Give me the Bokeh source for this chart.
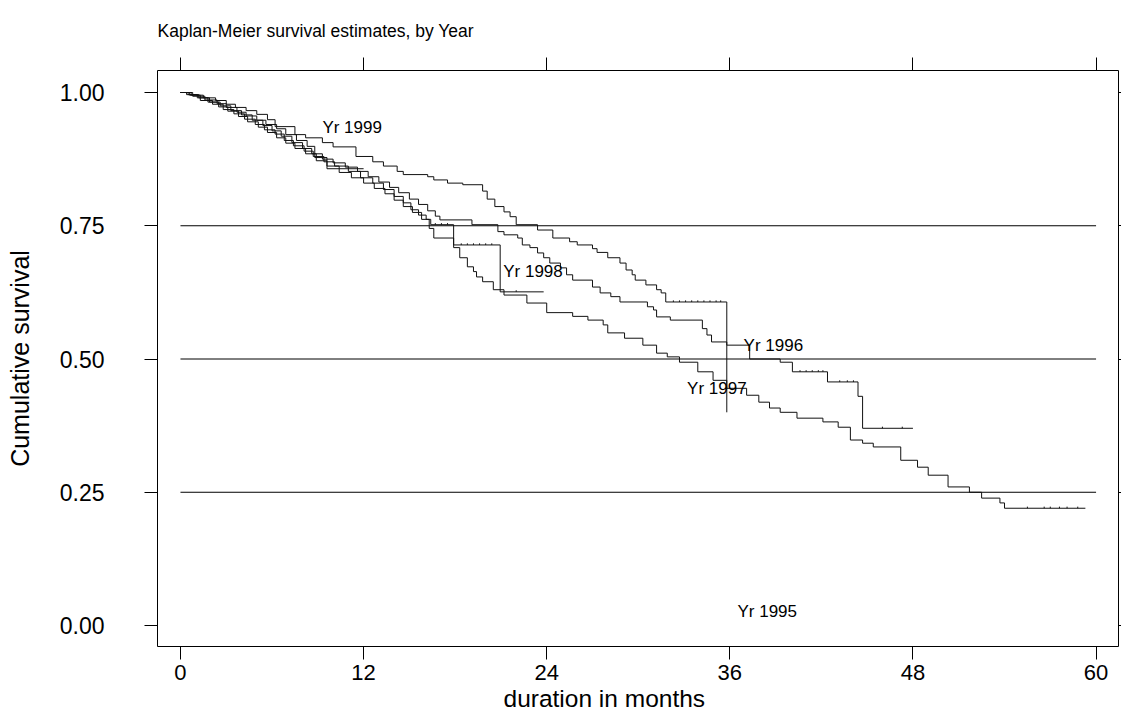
from bokeh.plotting import figure
from bokeh.models import LinearAxis, FixedTicker, Range1d, NumeralTickFormatter, ColumnDataSource, Title
from bokeh.core.properties import value
from bokeh.embed import file_html
from bokeh.resources import INLINE

# ---------------- data ----------------
x_ticks = [0, 12, 24, 36, 48, 60]
y_ticks = [0.0, 0.25, 0.5, 0.75, 1.0]
ref_levels = [0.25, 0.5, 0.75]

# Kaplan-Meier step points: (time in months, survival after event); last point = end of follow-up
t_1995 = [0, 0.5, 1.2, 1.8, 2.5, 3.1, 3.8, 4.4, 5.1, 5.7, 6.3, 6.9, 7.5, 8.2, 8.9, 9.6, 10.4, 11.2, 12.0,
          12.7, 13.4, 14.0, 14.6, 15.2, 15.8, 16.3, 16.6, 17.9, 18.3, 18.8, 19.2, 19.4, 19.8, 20.5, 21.2,
          22.7, 24.0, 25.7, 26.7, 27.7, 28.0, 29.1, 30.3, 31.2, 31.9, 32.7, 33.9, 34.9, 35.8, 37.1, 37.9,
          38.6, 39.3, 40.4, 42.1, 43.1, 43.9, 44.7, 45.4, 47.2, 48.3, 49.0, 50.3, 51.7, 52.5, 53.7, 54.0, 59.3]
s_1995 = [1.0, 0.996, 0.99, 0.982, 0.973, 0.965, 0.955, 0.945, 0.935, 0.925, 0.915, 0.905, 0.895, 0.885,
          0.872, 0.862, 0.85, 0.84, 0.83, 0.82, 0.81, 0.798, 0.786, 0.775, 0.762, 0.745, 0.727, 0.709, 0.69,
          0.673, 0.664, 0.654, 0.645, 0.63, 0.62, 0.605, 0.587, 0.58, 0.573, 0.564, 0.549, 0.539, 0.526,
          0.511, 0.504, 0.494, 0.476, 0.46, 0.445, 0.432, 0.419, 0.408, 0.40, 0.389, 0.382, 0.372, 0.348,
          0.342, 0.335, 0.31, 0.297, 0.282, 0.26, 0.25, 0.239, 0.23, 0.22, 0.22]

t_1996 = [0, 0.4, 1.1, 1.9, 2.6, 3.3, 4.0, 4.7, 5.4, 6.0, 6.6, 7.3, 8.0, 8.6, 9.3, 10.0, 10.8, 11.6, 12.3,
          13.0, 13.7, 14.3, 15.0, 15.6, 16.2, 16.7, 17.0, 19.1, 20.8, 21.2, 22.1, 22.4, 22.9, 23.4, 23.8,
          24.2, 24.9, 25.3, 25.7, 27.0, 27.5, 28.2, 28.8, 30.6, 31.0, 31.2, 32.1, 34.2, 34.5, 34.8, 35.8,
          37.3, 39.3, 40.1, 42.4, 44.4, 44.7, 48.0]
s_1996 = [1.0, 0.996, 0.99, 0.982, 0.975, 0.966, 0.958, 0.948, 0.938, 0.928, 0.918, 0.906, 0.895, 0.885,
          0.875, 0.868, 0.86, 0.852, 0.842, 0.832, 0.822, 0.812, 0.80, 0.79, 0.778, 0.768, 0.761, 0.752,
          0.739, 0.733, 0.727, 0.714, 0.709, 0.699, 0.69, 0.68, 0.671, 0.658, 0.648, 0.635, 0.624, 0.617,
          0.607, 0.598, 0.592, 0.579, 0.573, 0.557, 0.545, 0.532, 0.526, 0.50, 0.494, 0.476, 0.457, 0.43,
          0.37, 0.37]

t_1997 = [0, 0.7, 1.5, 2.3, 3.0, 3.6, 4.3, 5.0, 5.7, 6.2, 7.5, 8.2, 9.3, 10.0, 11.5, 12.6, 13.3, 14.2,
          14.6, 16.2, 16.6, 17.5, 18.5, 19.8, 20.1, 20.6, 21.2, 21.6, 22.0, 23.4, 24.4, 25.5, 26.0, 27.0,
          27.3, 28.0, 28.8, 29.2, 29.6, 29.8, 30.5, 31.2, 31.5, 31.8, 35.8]
s_1997 = [1.0, 0.995, 0.99, 0.985, 0.978, 0.972, 0.966, 0.959, 0.949, 0.936, 0.921, 0.915, 0.906, 0.898,
          0.88, 0.87, 0.862, 0.852, 0.846, 0.842, 0.836, 0.83, 0.827, 0.815, 0.80, 0.786, 0.776, 0.767,
          0.752, 0.742, 0.727, 0.72, 0.714, 0.707, 0.70, 0.69, 0.68, 0.667, 0.658, 0.648, 0.639, 0.63,
          0.624, 0.607, 0.40]

t_1998 = [0, 0.6, 1.3, 2.1, 2.8, 3.5, 4.2, 4.9, 5.5, 6.2, 6.8, 7.4, 8.1, 8.7, 9.4, 10.1, 11.0, 11.8, 12.6,
          13.3, 14.0, 14.6, 15.1, 15.6, 16.1, 16.4, 17.9, 20.95, 23.8]
s_1998 = [1.0, 0.995, 0.985, 0.978, 0.968, 0.96, 0.95, 0.94, 0.93, 0.922, 0.91, 0.90, 0.89, 0.88, 0.87,
          0.862, 0.852, 0.84, 0.83, 0.818, 0.805, 0.793, 0.78, 0.77, 0.762, 0.752, 0.714, 0.626, 0.626]

t_1999 = [0, 0.8, 1.6, 2.4, 3.0, 3.7, 4.3, 5.0, 5.6, 6.3, 6.9, 7.6, 8.3, 8.8, 9.6, 12.0]
s_1999 = [1.0, 0.993, 0.986, 0.979, 0.972, 0.963, 0.956, 0.948, 0.94, 0.932, 0.921, 0.91, 0.899, 0.878,
          0.857, 0.857]

# censoring times (tiny tick marks on the curves)
c_1995 = [55.5, 56.6, 57.0, 57.6, 58.1, 58.8]
c_1996 = [40.6, 41.0, 41.4, 41.8, 42.1, 43.2, 43.7, 44.1, 46.0, 47.3]
c_1997 = [32.3, 32.7, 33.1, 33.5, 33.9, 34.3, 34.7, 35.1, 35.4]
c_1998 = [16.7, 17.1, 17.5, 18.4, 18.8, 19.2, 19.6, 20.0, 20.4, 22.0]
c_1999 = []

curve_names = ["Yr 1995", "Yr 1996", "Yr 1997", "Yr 1998", "Yr 1999"]
curve_t = [t_1995, t_1996, t_1997, t_1998, t_1999]
curve_s = [s_1995, s_1996, s_1997, s_1998, s_1999]
curve_c = [c_1995, c_1996, c_1997, c_1998, c_1999]

label_x = [36.5, 36.9, 33.2, 21.15, 9.3]
label_y = [0.026, 0.526, 0.444, 0.664, 0.934]

title_text = "Kaplan-Meier survival estimates, by Year"
x_title = "duration in months"
y_title = "Cumulative survival"

FONT = "Liberation Sans"

# ---------------- figure ----------------
p = figure(width=1121, height=717, output_backend="svg", toolbar_location=None,
           x_range=Range1d(-1.506, 61.47), y_range=Range1d(-0.0394, 1.0413),
           x_axis_location=None, y_axis_location=None,
           min_border_left=157, min_border_top=70, min_border_right=2, min_border_bottom=71,
           background_fill_color="white", border_fill_color="white")
p.grid.visible = False
p.outline_line_color = "black"
p.outline_line_width = 1

p.title.text = title_text
p.title.align = "left"
p.title.text_font = FONT
p.title.text_font_size = "17.5px"
p.title.text_font_style = "normal"
p.title.text_color = "black"
p.title.standoff = 34

def style_axis(ax, ticks):
    ax.ticker = FixedTicker(ticks=ticks)
    ax.axis_line_color = None
    ax.major_tick_line_color = "black"
    ax.major_tick_in = 0
    ax.minor_tick_line_color = None
    ax.major_label_text_font = FONT
    ax.major_label_text_color = "black"
    ax.axis_label_text_font = FONT
    ax.axis_label_text_font_style = "normal"
    ax.axis_label_text_color = "black"

bottom = LinearAxis()
style_axis(bottom, x_ticks)
bottom.major_tick_out = 13
bottom.major_label_standoff = 5
bottom.major_label_text_font_size = "22px"
p.add_layout(bottom, "below")

xt = Title(text=x_title, align="left", offset=346, text_font=FONT, text_font_size="24.5px",
           text_font_style="normal", text_color="black", standoff=0)
p.add_layout(xt, "below")

left = LinearAxis(axis_label=y_title, formatter=NumeralTickFormatter(format="0.00"))
style_axis(left, y_ticks)
left.major_tick_out = 13
left.major_label_standoff = 40
left.major_label_text_font_size = "23px"
left.axis_label_text_font_size = "25px"
left.axis_label_standoff = 23
p.add_layout(left, "left")

top = LinearAxis()
style_axis(top, x_ticks)
top.major_tick_out = 13
top.major_label_standoff = 0
top.major_label_text_font_size = "0px"
top.major_label_overrides = {t: "" for t in x_ticks}
p.add_layout(top, "above")

right = LinearAxis()
style_axis(right, y_ticks)
right.major_tick_out = 3
right.major_label_standoff = 0
right.major_label_text_font_size = "0px"
right.major_label_overrides = {t: "" for t in y_ticks}
p.add_layout(right, "right")

# reference lines across the follow-up window
p.segment(x0=[x_ticks[0]] * len(ref_levels), x1=[x_ticks[-1]] * len(ref_levels),
          y0=ref_levels, y1=ref_levels, line_color="black", line_width=1)

# survival curves
def level_at(ts, ss, t):
    lv = ss[0]
    for ti, si in zip(ts, ss):
        if ti <= t:
            lv = si
    return lv

for name, ts, ss, cs in zip(curve_names, curve_t, curve_s, curve_c):
    p.step(x=ts, y=ss, mode="after", line_color="#111111", line_width=1)
    if cs:
        lv = [level_at(ts, ss, c) for c in cs]
        p.segment(x0=cs, x1=cs, y0=lv, y1=[v + 0.003 for v in lv],
                  line_color="#111111", line_width=1)

src = ColumnDataSource(dict(x=label_x, y=label_y, text=curve_names))
p.text(x="x", y="y", text="text", source=src, text_font=value(FONT), text_font_size="17px",
       text_baseline="middle", text_align="left", text_color="black")

open("out.html", "w").write(file_html(p, INLINE))
